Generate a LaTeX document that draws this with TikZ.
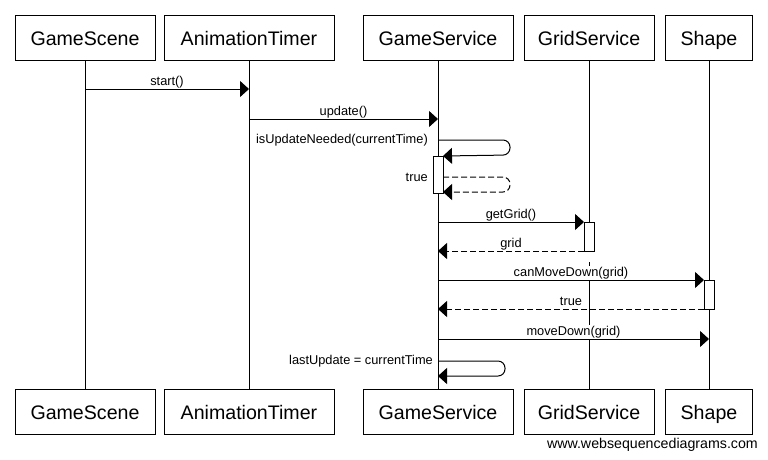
\documentclass[tikz,border=0pt]{standalone}
\usepackage{fontspec}
\setmainfont{Liberation Sans}
\usetikzlibrary{arrows.meta}
\begin{document}
\begin{tikzpicture}[x=1pt,y=-1pt,
  actor/.style={draw, line width=1pt, minimum height=45pt, inner sep=0pt, font=\fontsize{19.6}{23}\selectfont, text height=16pt, text depth=0pt},
  life/.style={line width=1pt},
  msg/.style={line width=1pt, -{Triangle[length=9pt,width=16pt]}},
  ret/.style={msg, dash pattern=on 6pt off 3pt},
  lbl/.style={font=\fontsize{12.8}{15}\selectfont, fill=white, inner sep=1pt},
  act/.style={draw, fill=white, line width=1pt, minimum width=10pt, inner sep=0pt, outer sep=0pt}
]
\useasboundingbox (0,0) rectangle (768,459);
\fill[white] (0,0) rectangle (768,459);

% actors top
\node[actor, minimum width=140pt] (gsT) at (85,37.5) {GameScene};
\node[actor, minimum width=170pt] (atT) at (249,37.5) {AnimationTimer};
\node[actor, minimum width=150pt] (svT) at (438,37.5) {GameService};
\node[actor, minimum width=130pt] (grT) at (589,37.5) {GridService};
\node[actor, minimum width=87pt] (shT) at (709,37.5) {Shape};
% actors bottom
\node[actor, minimum width=140pt] (gsB) at (85,411.5) {GameScene};
\node[actor, minimum width=170pt] (atB) at (249,411.5) {AnimationTimer};
\node[actor, minimum width=150pt] (svB) at (438,411.5) {GameService};
\node[actor, minimum width=130pt] (grB) at (589,411.5) {GridService};
\node[actor, minimum width=87pt] (shB) at (709,411.5) {Shape};

% row coordinates
\coordinate (r1) at (0,89);
\coordinate (r2) at (0,119);
\coordinate (r3) at (0,140);
\coordinate (r3b) at (0,156);
\coordinate (r4) at (0,177);
\coordinate (r4b) at (0,192);
\coordinate (r5) at (0,222);
\coordinate (r6) at (0,251);
\coordinate (r6b) at (0,262);
\coordinate (r7) at (0,280);
\coordinate (r8) at (0,309);
\coordinate (r9) at (0,339);
\coordinate (r10) at (0,361);
\coordinate (r10b) at (0,376);

% lifelines
\draw[life] (gsT.south) -- (gsB.north);
\draw[life] (atT.south) -- (atB.north);
\draw[life] (svT.south) -- (svB.north);
\draw[life] (grT.south) -- (grT |- r6);
\draw[life] (grT |- r6b) -- (grB.north);
\draw[life] (shT.south) -- (shB.north);

% activation boxes
\node[act, minimum height=37pt, anchor=north] (a1) at (svT |- r3b) {};
\node[act, minimum height=29pt, anchor=north] (a2) at (grT |- r5) {};
\node[act, minimum height=29pt, anchor=north] (a3) at (shT |- r7) {};

% labels
\node[lbl, anchor=base] at (167,85) {start()};
\node[lbl, anchor=base] at (343.5,115) {update()};
\node[lbl, anchor=east] at (429,140) {isUpdateNeeded(currentTime)};
\node[lbl, anchor=east] at (429,177) {true};
\node[lbl, anchor=base] at (511,218) {getGrid()};
\node[lbl, anchor=base] at (511,247) {grid};
\node[lbl, anchor=base] at (571,276) {canMoveDown(grid)};
\node[lbl, anchor=base] at (571,305) {true};
\node[lbl, anchor=base] at (573.5,335) {moveDown(grid)};
\node[lbl, anchor=east] at (434,361) {lastUpdate = currentTime};

% messages
\draw[msg] (gsT |- r1) -- (atT |- r1);
\draw[msg] (atT |- r2) -- (svT |- r2);
\draw[msg, rounded corners=7pt] (svT |- r3) -- (510,140) -- (510,155) -- (a1.north east);
\draw[ret, rounded corners=7pt] (a1.east |- r4) -- (510,177) -- (510,192) -- (a1.east |- r4b);
\draw[msg] (svT |- r5) -- (a2.north west);
\draw[ret] (a2.south west) -- (svT |- r6);
\draw[msg] (svT |- r7) -- (a3.north west);
\draw[ret] (a3.south west) -- (svT |- r8);
\draw[msg] (svT |- r9) -- (shT |- r9);
\draw[msg, rounded corners=7pt] (svT |- r10) -- (505,361) -- (505,376) -- (svT |- r10b);

% watermark
\node[font=\fontsize{14.2}{17}\selectfont, anchor=base east, inner sep=0pt] (wm) at (758,448) {www.websequencediagrams.com};
\end{tikzpicture}
\end{document}
